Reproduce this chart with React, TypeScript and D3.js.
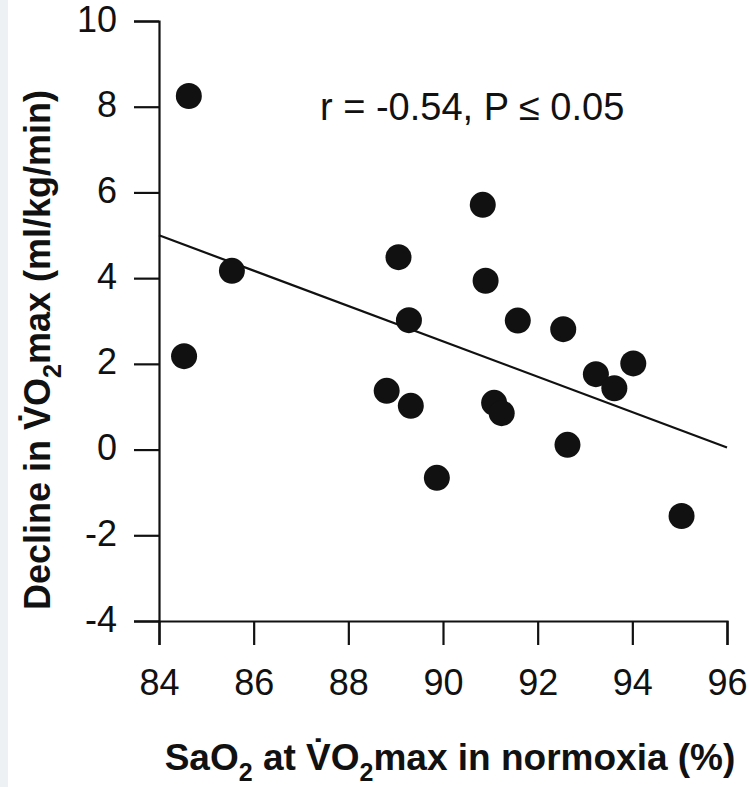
import React, { useEffect, useRef } from 'react';
import * as d3 from 'd3';

// SaO2 at VO2max (%) vs decline in VO2max (ml/kg/min)
const sao2 = [84.63, 84.53, 85.54, 89.06, 89.28, 88.81, 89.32, 89.87, 90.84, 90.9, 91.08, 91.24, 91.58, 92.54, 92.63, 93.23, 93.62, 94.02, 95.04];
const decline = [8.25, 2.18, 4.17, 4.49, 3.02, 1.37, 1.02, -0.66, 5.71, 3.94, 1.09, 0.85, 3.01, 2.81, 0.11, 1.76, 1.43, 2.01, -1.55];

// regression line ends
const fitX = [84, 96];
const fitY = [5.0, 0.05];

const xTicks = [84, 86, 88, 90, 92, 94, 96];
const yTicks = [-4, -2, 0, 2, 4, 6, 8, 10];

const W = 750;
const H = 787;
const margin = { top: 21, right: 23, bottom: 166, left: 159 };
const font = 'Arial, "Liberation Sans", sans-serif';
const ink = '#111';

export default function App() {
  const xAxisRef = useRef<SVGGElement>(null);
  const yAxisRef = useRef<SVGGElement>(null);

  const x = d3.scaleLinear().domain([84, 96]).range([margin.left, W - margin.right]);
  const y = d3.scaleLinear().domain([-4, 10]).range([H - margin.bottom, margin.top]);

  useEffect(() => {
    const fmt = (d: any) => String(d); // plain hyphen minus like the original
    const xAxis = d3.axisBottom(x).tickValues(xTicks).tickSize(24).tickPadding(24).tickFormat(fmt);
    const yAxis = d3.axisLeft(y).tickValues(yTicks).tickSize(25).tickPadding(17).tickFormat(fmt);

    d3.select(xAxisRef.current).selectAll('*').remove();
    d3.select(yAxisRef.current).selectAll('*').remove();

    const gx = d3.select(xAxisRef.current).call(xAxis as any);
    const gy = d3.select(yAxisRef.current).call(yAxis as any);

    [gx, gy].forEach(g => {
      g.select('.domain').attr('stroke', ink).attr('stroke-width', 2.2);
      g.selectAll('.tick line').attr('stroke', ink).attr('stroke-width', 2.2);
      g.selectAll('.tick text')
        .attr('fill', ink)
        .style('font-family', font)
        .style('font-size', '36px');
    });
    gy.selectAll('.tick text').attr('dy', '0.28em');
  }, []);

  const line = d3
    .line<number>()
    .x((d, i) => x(fitX[i]))
    .y((d, i) => y(fitY[i]));

  const titleStyle = { fontFamily: font, fontSize: 37, fontWeight: 'bold' as const, fill: ink };

  return (
    <svg width={W} height={H} style={{ position: 'absolute', left: 0, top: 0, background: '#fff' }}>
      <rect x={0} y={0} width={8} height={H} fill="#eef1f4" />
      <g ref={yAxisRef} transform={`translate(${margin.left},0)`} />
      <g ref={xAxisRef} transform={`translate(0,${H - margin.bottom})`} />
      <path d={line(fitY) || ''} fill="none" stroke={ink} strokeWidth={2.2} />
      {sao2.map((d, i) => (
        <circle key={i} cx={x(d)} cy={y(decline[i])} r={13} fill={ink} />
      ))}
      <text x={320} y={120} style={{ fontFamily: font, fontSize: 38, fill: ink }}>
        r = -0.54, P ≤ 0.05
      </text>
      <text x={450} y={770} textAnchor="middle" style={titleStyle}>
        SaO<tspan dy={11} fontSize={25}>2</tspan>
        <tspan dy={-11}> at V̇O</tspan>
        <tspan dy={11} fontSize={25}>2</tspan>
        <tspan dy={-11}>max in normoxia (%)</tspan>
      </text>
      <text transform={`translate(50,${(margin.top + H - margin.bottom) / 2 + 29}) rotate(-90)`} textAnchor="middle" style={{ ...titleStyle, fontSize: 36 }}>
        Decline in V̇O<tspan dy={11} fontSize={25}>2</tspan>
        <tspan dy={-11}>max (ml/kg/min)</tspan>
      </text>
    </svg>
  );
}
